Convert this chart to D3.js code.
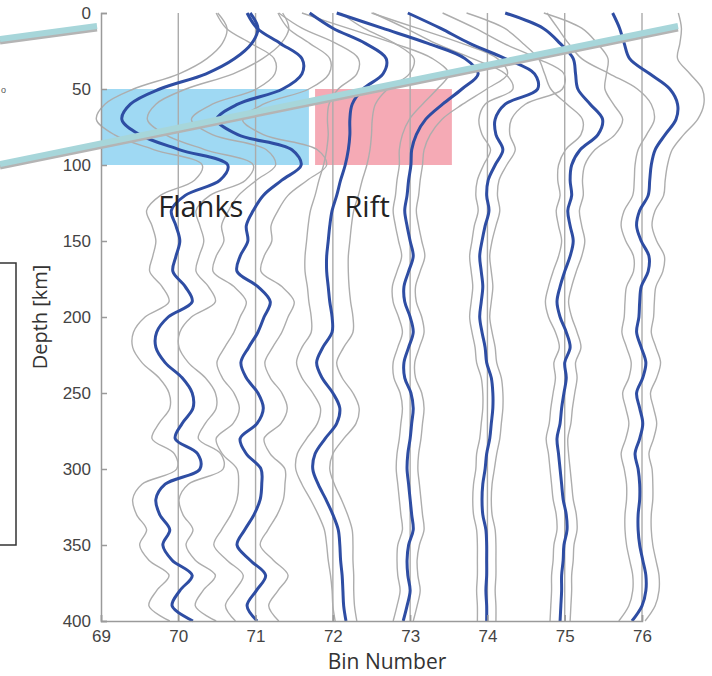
<!DOCTYPE html>
<html>
<head>
<meta charset="utf-8">
<script src="https://cdn.jsdelivr.net/npm/d3@7"></script>
<style>
body { margin: 0; background: #fff; }
svg { display: block; }
</style>
</head>
<body>
<svg width="712" height="676"></svg>
<script>
// depth samples (km)
const depths = [0, 10, 20, 30, 40, 50, 60, 70, 80, 90, 100, 110, 120, 130, 140, 150, 160, 170, 180, 190, 200,
    210, 220, 230, 240, 250, 260, 270, 280, 290, 300, 310, 320, 330, 340, 350, 360, 370, 380, 390, 400];

const bins = [70, 71, 72, 73, 74, 75, 76];

// deflection of the mean trace from its bin centre (bin units)
const dev70 = [0.93, 1.03, 0.95, 0.73, 0.36, -0.24, -0.62, -0.73, -0.50, 0.02, 0.64, 0.54, 0.09, -0.09, -0.03, 0.02, -0.03, -0.07, 0.09, 0.18, -0.13,
    -0.28, -0.29, -0.17, 0.05, 0.18, 0.19, 0.05, -0.04, 0.25, 0.28, -0.17, -0.29, -0.24, -0.11, -0.20, -0.08, 0.18, 0.02, -0.08, 0.19];
const dev71 = [-0.11, 0.02, 0.32, 0.60, 0.60, 0.35, -0.23, -0.50, -0.23, 0.47, 0.59, 0.34, 0.10, -0.03, -0.12, -0.10, -0.20, -0.24, 0.03, 0.19, 0.11,
    0.03, -0.09, -0.19, -0.12, 0.03, 0.10, 0.02, -0.20, -0.12, 0.07, 0.08, 0.06, -0.02, -0.14, -0.24, -0.07, 0.13, 0.01, -0.11, 0.02];
const dev72 = [-0.30, 0.00, 0.42, 0.69, 0.65, 0.39, 0.25, 0.22, 0.22, 0.20, 0.16, 0.10, 0.05, -0.01, -0.04, -0.06, -0.08, -0.08, -0.06, -0.04, -0.01,
    -0.01, -0.13, -0.21, -0.14, 0.00, 0.09, 0.05, -0.10, -0.23, -0.26, -0.19, -0.09, 0.00, 0.07, 0.09, 0.10, 0.12, 0.13, 0.14, 0.17];
const dev73 = [-0.95, -0.36, 0.23, 0.71, 0.88, 0.67, 0.42, 0.20, 0.08, 0.02, 0.01, -0.02, -0.04, -0.07, -0.04, 0.00, 0.04, -0.02, -0.08, -0.07, 0.00,
    0.04, -0.02, -0.08, -0.07, 0.01, 0.04, 0.02, 0.00, -0.03, -0.04, -0.02, 0.00, 0.02, 0.04, -0.02, -0.04, -0.03, 0.00, -0.04, -0.09];
const dev74 = [-1.03, -0.61, -0.23, 0.23, 0.61, 0.65, 0.23, 0.10, 0.11, 0.20, 0.10, 0.01, -0.01, 0.02, -0.03, -0.07, -0.10, -0.08, -0.06, -0.08, -0.10,
    -0.07, -0.03, -0.01, 0.05, 0.07, 0.07, 0.05, 0.03, -0.01, -0.03, -0.06, -0.07, -0.06, -0.02, -0.01, -0.01, -0.01, -0.02, -0.01, -0.01];
const dev75 = [-0.77, -0.28, -0.06, 0.11, 0.14, 0.17, 0.33, 0.49, 0.43, 0.20, 0.09, 0.07, 0.09, 0.04, 0.07, 0.11, 0.07, 0.00, -0.06, -0.10, -0.06,
    0.02, 0.07, 0.00, 0.02, -0.01, -0.04, -0.06, -0.10, -0.08, -0.06, -0.04, -0.02, 0.02, 0.03, -0.01, -0.02, -0.04, -0.04, -0.05, -0.06];
const dev76 = [-0.38, -0.29, -0.23, -0.16, 0.10, 0.36, 0.46, 0.44, 0.30, 0.17, 0.12, 0.10, 0.08, -0.03, -0.07, -0.01, 0.09, 0.08, -0.01, -0.03, -0.04,
    -0.07, -0.01, 0.05, 0.01, -0.07, -0.03, 0.01, -0.03, -0.09, -0.05, -0.03, -0.03, -0.05, -0.05, -0.03, 0.01, 0.05, 0.05, 0.00, -0.13];

// half width of the grey error bounds (bin units)
const sig70 = [0.42, 0.40, 0.38, 0.36, 0.35, 0.34, 0.33, 0.33, 0.33, 0.33, 0.33, 0.33, 0.32, 0.32, 0.31, 0.31, 0.30, 0.30, 0.30, 0.30, 0.30,
    0.30, 0.30, 0.30, 0.30, 0.30, 0.30, 0.30, 0.30, 0.30, 0.30, 0.30, 0.30, 0.30, 0.30, 0.30, 0.30, 0.30, 0.30, 0.30, 0.30];
const sig71 = [0.40, 0.40, 0.38, 0.36, 0.35, 0.34, 0.33, 0.33, 0.33, 0.33, 0.33, 0.33, 0.32, 0.32, 0.32, 0.31, 0.31, 0.31, 0.31, 0.31, 0.31,
    0.31, 0.31, 0.31, 0.31, 0.31, 0.31, 0.31, 0.31, 0.31, 0.31, 0.30, 0.30, 0.30, 0.30, 0.30, 0.30, 0.29, 0.28, 0.28, 0.28];
const sig72 = [0.40, 0.40, 0.38, 0.36, 0.34, 0.32, 0.30, 0.29, 0.28, 0.28, 0.28, 0.28, 0.28, 0.28, 0.28, 0.28, 0.28, 0.28, 0.27, 0.27, 0.27,
    0.27, 0.27, 0.26, 0.26, 0.26, 0.25, 0.25, 0.24, 0.23, 0.22, 0.21, 0.20, 0.19, 0.18, 0.17, 0.16, 0.15, 0.14, 0.14, 0.14];
const sig73 = [0.45, 0.45, 0.44, 0.42, 0.38, 0.32, 0.26, 0.21, 0.18, 0.16, 0.15, 0.15, 0.15, 0.15, 0.15, 0.15, 0.15, 0.15, 0.15, 0.15, 0.15,
    0.14, 0.14, 0.14, 0.14, 0.14, 0.14, 0.14, 0.14, 0.14, 0.14, 0.14, 0.14, 0.14, 0.14, 0.14, 0.13, 0.13, 0.13, 0.13, 0.13];
const sig74 = [0.45, 0.45, 0.44, 0.42, 0.38, 0.32, 0.26, 0.21, 0.18, 0.16, 0.15, 0.14, 0.14, 0.14, 0.14, 0.13, 0.13, 0.13, 0.13, 0.13, 0.13,
    0.13, 0.13, 0.13, 0.13, 0.13, 0.13, 0.13, 0.13, 0.13, 0.12, 0.12, 0.12, 0.12, 0.12, 0.12, 0.12, 0.12, 0.12, 0.12, 0.12];
const sig75 = [0.50, 0.50, 0.48, 0.45, 0.40, 0.35, 0.30, 0.26, 0.22, 0.19, 0.17, 0.16, 0.15, 0.15, 0.15, 0.15, 0.15, 0.15, 0.15, 0.15, 0.15,
    0.14, 0.14, 0.14, 0.14, 0.14, 0.14, 0.14, 0.14, 0.13, 0.13, 0.13, 0.13, 0.13, 0.13, 0.13, 0.13, 0.13, 0.13, 0.13, 0.13];
const sig76 = [0.85, 0.80, 0.72, 0.62, 0.52, 0.42, 0.34, 0.28, 0.24, 0.22, 0.21, 0.20, 0.20, 0.20, 0.20, 0.20, 0.20, 0.19, 0.19, 0.19, 0.19,
    0.19, 0.19, 0.19, 0.18, 0.18, 0.18, 0.18, 0.18, 0.18, 0.18, 0.17, 0.17, 0.17, 0.17, 0.17, 0.17, 0.17, 0.17, 0.17, 0.17];

const devs = [dev70, dev71, dev72, dev73, dev74, dev75, dev76];
const sigs = [sig70, sig71, sig72, sig73, sig74, sig75, sig76];

const xTicks = [69, 70, 71, 72, 73, 74, 75, 76];
const yTicks = [0, 50, 100, 150, 200, 250, 300, 350, 400];

// highlighted depth window and region labels
const flankBox = [69, 71.69, 50, 100];
const riftBox = [71.77, 73.54, 50, 100];
const regionLabels = [["Flanks", 69.74, 120], ["Rift", 72.15, 120]];

const blueColor = "#2e4da3";
const greyColor = "#adadad";
const gridColor = "#ababab";

let xScale = d3.scaleLinear().domain([69, 76]).range([101, 642]);
let yScale = d3.scaleLinear().domain([0, 400]).range([13, 621]);

const svg = d3.select("svg");

const traceLine = d3.line()
    .x(d => xScale(d[0]))
    .y(d => yScale(d[1]))
    .curve(d3.curveCatmullRom.alpha(0.5));

const drawBoxes = () => {
    svg.append("rect")
        .attr("x", xScale(flankBox[0])).attr("y", yScale(flankBox[2]))
        .attr("width", xScale(flankBox[1]) - xScale(flankBox[0]))
        .attr("height", yScale(flankBox[3]) - yScale(flankBox[2]))
        .attr("fill", "#9fd9f3");
    svg.append("rect")
        .attr("x", xScale(riftBox[0])).attr("y", yScale(riftBox[2]))
        .attr("width", xScale(riftBox[1]) - xScale(riftBox[0]))
        .attr("height", yScale(riftBox[3]) - yScale(riftBox[2]))
        .attr("fill", "#f5aab5");
};

const drawGrid = () => {
    svg.append("g").selectAll("line")
        .data(bins)
        .enter().append("line")
        .attr("x1", d => xScale(d)).attr("x2", d => xScale(d))
        .attr("y1", yScale(0)).attr("y2", yScale(400))
        .attr("stroke", gridColor).attr("stroke-width", 1.4);
};

const drawTraces = () => {
    let g = svg.append("g").attr("fill", "none");
    bins.forEach((b, i) => {
        let dev = devs[i], sig = sigs[i];
        let lower = depths.map((d, j) => [b + dev[j] - sig[j], d]);
        let upper = depths.map((d, j) => [b + dev[j] + sig[j], d]);
        [lower, upper].forEach(pts => {
            g.append("path").attr("d", traceLine(pts))
                .attr("stroke", greyColor).attr("stroke-width", 1.4);
        });
    });
    bins.forEach((b, i) => {
        let mean = depths.map((d, j) => [b + devs[i][j], d]);
        g.append("path").attr("d", traceLine(mean))
            .attr("stroke", blueColor).attr("stroke-width", 3);
    });
};

const drawAxes = () => {
    let yAxis = d3.axisLeft(yScale).tickValues(yTicks).tickSize(-6).tickPadding(10);
    let xAxis = d3.axisBottom(xScale).tickValues(xTicks).tickFormat(d3.format("d"))
        .tickSize(-6).tickPadding(9);

    let gy = svg.append("g").attr("transform", "translate(101, 0)").call(yAxis);
    let gx = svg.append("g").attr("transform", "translate(0, 621)").call(xAxis);
    [gx, gy].forEach(g => {
        g.selectAll("path, line").attr("stroke", "#9a9a9a").attr("stroke-width", 1.5);
        g.selectAll("text").attr("fill", "#444")
            .style("font-family", "'Liberation Sans', Arial, sans-serif")
            .style("font-size", "17px");
    });

    svg.append("text")
        .attr("transform", "translate(47, 317) rotate(-90)")
        .attr("text-anchor", "middle")
        .style("font-family", "'Open Sans', sans-serif")
        .style("font-size", "20px")
        .attr("fill", "#333")
        .text("Depth [km]");

    svg.append("text")
        .attr("x", 387).attr("y", 669)
        .attr("text-anchor", "middle")
        .style("font-family", "'Open Sans', sans-serif")
        .style("font-size", "21px")
        .attr("fill", "#333")
        .text("Bin Number");
};

const drawLabels = () => {
    svg.selectAll(".region")
        .data(regionLabels)
        .enter().append("text")
        .attr("class", "region")
        .attr("x", d => xScale(d[1]))
        .attr("y", d => yScale(d[2]) + 22)
        .style("font-family", "'Open Sans', sans-serif")
        .style("font-size", "29px")
        .attr("fill", "#222")
        .text(d => d[0]);
};

// connector bars and inset frame from the neighbouring panel
const drawOverlay = () => {
    const bar = (x1, y1, x2, y2) => {
        svg.append("line")
            .attr("x1", x1).attr("y1", y1 + 3).attr("x2", x2).attr("y2", y2 + 3)
            .attr("stroke", "#b4b4b4").attr("stroke-width", 5);
        svg.append("line")
            .attr("x1", x1).attr("y1", y1).attr("x2", x2).attr("y2", y2)
            .attr("stroke", "#a7d6da").attr("stroke-width", 6);
    };
    bar(0, 39, 97, 26);
    bar(0, 164, 678, 26);

    svg.append("rect")
        .attr("x", -10).attr("y", 263).attr("width", 26).attr("height", 282)
        .attr("fill", "none").attr("stroke", "#333").attr("stroke-width", 1.5);

    svg.append("text")
        .attr("x", 1).attr("y", 93)
        .style("font-family", "'Liberation Sans', sans-serif")
        .style("font-size", "9px")
        .attr("fill", "#555")
        .text("o");
};

drawBoxes();
drawGrid();
drawTraces();
drawAxes();
drawLabels();
drawOverlay();
</script>
</body>
</html>
